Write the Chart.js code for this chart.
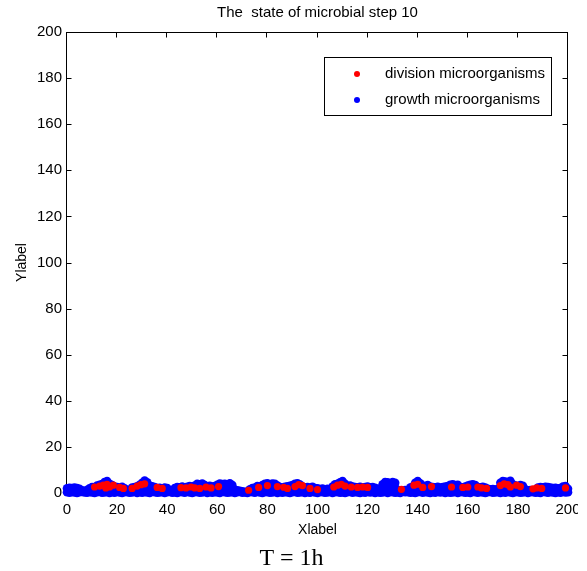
<!DOCTYPE html>
<html><head><meta charset="utf-8">
<script src="https://cdn.jsdelivr.net/npm/chart.js@4/dist/chart.umd.min.js"></script>
<style>html,body{margin:0;padding:0;background:#fff;overflow:hidden}#wrap{width:578px;height:571px}</style>
</head><body><div id="wrap"><canvas id="c" width="578" height="571"></canvas></div>
<script>
const chartTitle = 'The  state of microbial step 10';
const xTitle = 'Xlabel';
const yTitle = 'Ylabel';
const caption = 'T = 1h';
const seriesNames = ['division microorganisms', 'growth microorganisms'];
const xTicks = [0, 20, 40, 60, 80, 100, 120, 140, 160, 180, 200];
const yTicks = [0, 20, 40, 60, 80, 100, 120, 140, 160, 180, 200];

// growth microorganisms: upper points, one per x = 0..200
const blueTopY = [
2.0,2.3,2.2,2.4,2.1,1.8,1.2,1.0,1.3,2.0,
2.6,2.4,3.2,3.6,3.9,4.8,5.2,4.0,3.5,2.8,
2.6,2.4,2.7,2.0,1.2,1.4,2.4,2.6,2.9,3.6,
4.4,5.4,4.6,3.2,2.9,2.6,2.2,2.3,2.0,2.4,
2.1,1.3,1.1,2.2,2.6,2.5,2.8,2.4,2.7,3.0,
2.8,3.2,4.0,3.8,4.1,3.4,2.9,3.1,2.8,3.0,
3.6,4.1,3.9,4.0,3.8,4.2,3.4,1.4,1.2,1.0,
0.7,0.5,0.6,1.6,2.2,2.4,3.0,2.8,3.4,4.0,
4.2,3.8,4.1,4.0,3.2,2.6,2.4,2.7,2.9,3.1,
3.4,4.0,4.2,3.7,2.8,2.5,2.6,2.4,2.7,2.2,
2.0,1.7,1.9,1.5,1.8,1.6,2.8,3.8,4.0,4.6,
5.2,4.0,3.0,3.2,2.8,2.6,2.5,2.7,2.4,2.6,
2.8,2.5,2.6,2.3,1.8,0.9,3.8,4.8,4.6,4.0,
4.8,4.4,1.4,1.2,1.0,1.3,1.2,2.4,2.8,4.4,
5.2,4.2,3.2,3.0,3.4,2.8,2.6,2.5,2.7,2.4,
2.6,2.8,3.0,3.6,3.8,3.4,3.6,2.6,2.5,2.8,
3.2,3.6,3.8,3.4,2.6,2.5,2.7,2.4,1.8,1.6,
1.7,1.5,1.8,4.4,5.2,5.0,4.8,5.3,3.8,3.2,
3.0,3.4,3.1,1.6,1.2,1.3,1.1,1.4,2.4,2.6,
2.5,2.7,2.6,2.4,2.2,2.3,2.0,2.2,2.8,3.0,
1.8
];
// growth microorganisms: lower points, one per x = 0..200
const blueBaseY = [
0.3,0.1,0.4,0.2,0.0,0.3,0.5,0.2,0.1,0.4,
0.2,0.0,0.3,0.5,0.1,0.2,0.4,0.0,0.3,0.1,
0.5,0.2,0.0,0.4,0.3,0.1,0.2,0.5,0.0,0.3,
0.1,0.4,0.2,0.0,0.5,0.3,0.1,0.2,0.4,0.0,
0.3,0.5,0.1,0.2,0.0,0.4,0.3,0.1,0.5,0.2,
0.0,0.3,0.4,0.1,0.2,0.5,0.0,0.3,0.1,0.4,
0.2,0.0,0.5,0.3,0.1,0.2,0.4,0.0,0.3,0.5,
0.1,0.2,0.0,0.4,0.3,0.1,0.5,0.2,0.0,0.3,
0.4,0.1,0.2,0.5,0.0,0.3,0.1,0.4,0.2,0.0,
0.3,0.5,0.1,0.2,0.4,0.0,0.3,0.1,0.5,0.2,
0.0,0.4,0.3,0.1,0.2,0.5,0.0,0.3,0.4,0.1,
0.2,0.0,0.3,0.5,0.1,0.4,0.2,0.0,0.3,0.1,
0.5,0.2,0.4,0.0,0.3,0.1,0.2,0.5,0.0,0.4,
0.3,0.1,0.2,0.0,0.5,0.3,0.4,0.1,0.2,0.0,
0.3,0.5,0.1,0.4,0.2,0.0,0.3,0.1,0.5,0.2,
0.4,0.0,0.3,0.1,0.2,0.5,0.0,0.4,0.3,0.1,
0.2,0.0,0.5,0.3,0.1,0.4,0.2,0.0,0.3,0.5,
0.1,0.2,0.4,0.0,0.3,0.1,0.5,0.2,0.0,0.4,
0.3,0.1,0.2,0.5,0.0,0.3,0.4,0.1,0.2,0.0,
0.5,0.3,0.1,0.4,0.2,0.0,0.3,0.1,0.5,0.2,
0.3
];
// growth microorganisms: middle points under the peaks
const blueMidX = [13,14,15,16,17,18,29,30,31,32,52,53,54,55,60,61,62,63,64,65,66,78,79,80,81,82,83,90,91,92,93,107,108,109,110,111,126,127,128,129,130,131,139,140,141,153,154,155,156,161,162,163,173,174,175,176,177,178];
const blueMidY = [2.0,2.2,2.4,2.6,2.2,1.9,2.0,2.3,2.6,2.4,2.1,2.0,2.2,1.9,1.9,2.2,2.0,2.1,2.0,2.3,1.8,1.8,2.1,2.2,2.0,2.2,2.1,1.9,2.1,2.3,2.0,2.0,2.1,2.4,2.6,2.1,2.0,2.5,2.4,2.1,2.5,2.3,2.3,2.6,2.2,1.9,2.0,1.8,1.9,1.9,2.0,1.8,2.3,2.6,2.5,2.4,2.6,2.0];
// division microorganisms
const redX = [11,13,14.5,15.5,16,17,18.5,21,22.5,26,28,29.5,31,36,38,45.5,47.5,49.5,51,53,55.5,57.5,60.5,72.5,76.5,80,84,86.5,88,91,92.5,94,97,100,106.5,108,109.5,111,113.5,116,118,120,133.5,138.5,140,142,145.5,153.5,158,160,164,165.5,167.5,173,174.5,176,177,179.5,181,186,187.5,189.5,199];
const redY = [2.6,3.0,3.4,2.2,3.8,2.6,3.4,2.4,2.0,2.0,3.0,3.6,4.0,2.4,2.0,2.3,2.2,2.6,2.2,2.0,2.6,2.2,2.8,1.2,2.4,3.2,2.8,2.5,2.0,2.8,3.6,3.2,2.0,1.5,2.6,3.4,3.8,3.0,2.6,2.4,2.6,2.4,1.6,3.4,3.8,2.4,2.8,2.6,2.4,2.6,2.6,2.2,2.0,3.2,4.0,3.6,2.6,3.4,2.8,1.8,2.2,2.0,2.2];

const RED = '#ff0000', BLUE = '#0000ff';
const SANS = "'Liberation Sans', Arial, Helvetica, sans-serif";

const bluePts = []
  .concat(blueBaseY.map((y, i) => ({x: i, y})))
  .concat(blueMidX.map((x, i) => ({x, y: blueMidY[i]})))
  .concat(blueTopY.map((y, i) => ({x: i, y})));
const redPts = redX.map((x, i) => ({x, y: redY[i]}));

const framePlugin = {
  id: 'frame',
  beforeDatasetsDraw(chart) {
    const {ctx, chartArea: a, scales: {x, y}} = chart;
    ctx.save();
    ctx.strokeStyle = '#000';
    ctx.lineWidth = 1;
    const L = Math.round(a.left) - 0.5, R = Math.round(a.right) - 0.5, T = Math.round(a.top) + 0.5, B = Math.round(a.bottom) - 0.5;
    ctx.strokeRect(L, T, R - L, B - T);
    ctx.beginPath();
    xTicks.forEach(v => {
      const p = Math.round(x.getPixelForValue(v)) - 0.5;
      ctx.moveTo(p, B); ctx.lineTo(p, B - 5);
      ctx.moveTo(p, T); ctx.lineTo(p, T + 5);
    });
    yTicks.forEach(v => {
      const p = Math.round(y.getPixelForValue(v)) + 0.5;
      ctx.moveTo(L, p); ctx.lineTo(L + 5, p);
      ctx.moveTo(R, p); ctx.lineTo(R - 5, p);
    });
    ctx.stroke();
    ctx.restore();
  }
};

const legendPlugin = {
  id: 'boxLegend',
  afterDraw(chart) {
    const {ctx, chartArea: a} = chart;
    const bx = a.right - 244, by = a.top + 25, bw = 227, bh = 58;
    ctx.save();
    ctx.fillStyle = '#fff';
    ctx.fillRect(bx, by, bw, bh);
    ctx.strokeStyle = '#000';
    ctx.lineWidth = 1;
    ctx.strokeRect(bx + 0.5, by + 0.5, bw, bh);
    ctx.font = '15px ' + SANS;
    ctx.textBaseline = 'middle';
    ctx.textAlign = 'left';
    seriesNames.forEach((name, i) => {
      const ds = chart.data.datasets.find(d => d.label === name);
      const ry = by + 17 + i * 26;
      ctx.fillStyle = ds.backgroundColor;
      ctx.beginPath();
      ctx.arc(bx + 33, ry, 3, 0, Math.PI * 2);
      ctx.fill();
      ctx.fillStyle = '#000';
      ctx.fillText(ds.label, bx + 61, ry);
    });
    ctx.restore();
  }
};

const captionPlugin = {
  id: 'caption',
  afterDraw(chart) {
    const {ctx, chartArea: a} = chart;
    ctx.save();
    ctx.font = "24px 'Liberation Serif', 'Times New Roman', serif";
    ctx.fillStyle = '#000';
    ctx.textAlign = 'center';
    ctx.textBaseline = 'alphabetic';
    ctx.fillText(caption, (a.left + a.right) / 2 - 26, chart.height - 6);
    ctx.restore();
  }
};

new Chart(document.getElementById('c'), {
  type: 'scatter',
  data: {
    datasets: [
      {label: seriesNames[0], data: redPts, backgroundColor: RED, borderWidth: 0, pointRadius: 3.6, pointHoverRadius: 3.6, clip: false},
      {label: seriesNames[1], data: bluePts, backgroundColor: BLUE, borderWidth: 0, pointRadius: 4.3, pointHoverRadius: 4.3, clip: false}
    ]
  },
  options: {
    responsive: false,
    animation: false,
    devicePixelRatio: 1,
    events: [],
    layout: {padding: {left: 0, right: 0, top: 0, bottom: 0}},
    plugins: {
      legend: {display: false},
      tooltip: {enabled: false},
      title: {
        display: true, text: chartTitle, color: '#000', fullSize: false,
        font: {family: SANS, size: 15, weight: 'normal', lineHeight: 1.2},
        padding: {top: 4, bottom: 10}
      }
    },
    scales: {
      x: {
        type: 'linear', min: 0, max: 200, position: 'bottom',
        afterBuildTicks: s => { s.ticks = xTicks.map(v => ({value: v})); },
        afterFit: s => { s.height = 78; s.paddingRight = 10; s.paddingLeft = 0; },
        ticks: {color: '#000', font: {family: SANS, size: 15}, padding: 8, maxRotation: 0, autoSkip: false},
        grid: {display: false, drawTicks: false},
        border: {display: false},
        title: {display: true, text: xTitle, color: '#000', font: {family: SANS, size: 14, lineHeight: 1.2}, padding: {top: 0, bottom: 32}}
      },
      y: {
        type: 'linear', min: 0, max: 200,
        afterBuildTicks: s => { s.ticks = yTicks.map(v => ({value: v})); },
        afterFit: s => { s.width = 67; s.paddingTop = 0; s.paddingBottom = 0; },
        ticks: {color: '#000', font: {family: SANS, size: 15}, padding: 5, autoSkip: false},
        grid: {display: false, drawTicks: false},
        border: {display: false},
        title: {display: true, text: yTitle, color: '#000', font: {family: SANS, size: 14, lineHeight: 1.2}, padding: {top: 14, bottom: 0}}
      }
    }
  },
  plugins: [framePlugin, legendPlugin, captionPlugin]
});
</script>
</body></html>
